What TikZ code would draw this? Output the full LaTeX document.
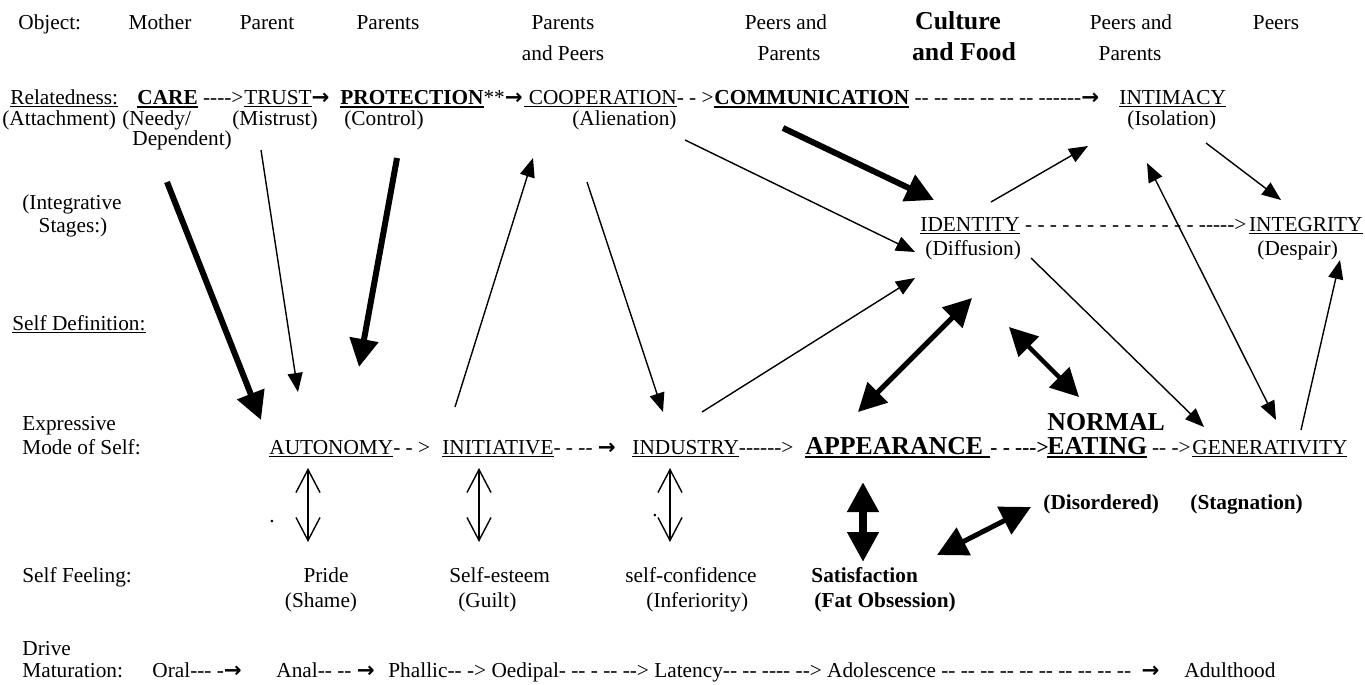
\documentclass[tikz,border=0pt]{standalone}
\usepackage{fontspec}
\setmainfont{Liberation Serif}[Ligatures=TeXOff]
\newfontfamily\arrowfont{DejaVu Sans}
\usepackage{tikz}
\usetikzlibrary{arrows.meta,positioning,calc}

\newcommand{\normtxt}{\fontsize{10.65pt}{12.8pt}\selectfont}
\newcommand{\bigbf}{\fontsize{12.9pt}{15pt}\selectfont\bfseries}
\newcommand{\rarr}{{\arrowfont\bfseries →}}
\newsavebox{\ulbox}
\newcommand{\ulnorm}[1]{\sbox{\ulbox}{#1}\rlap{\rule[-1.6pt]{\wd\ulbox}{0.7pt}}\usebox{\ulbox}}
\newcommand{\ulbold}[1]{\sbox{\ulbox}{#1}\rlap{\rule[-2.2pt]{\wd\ulbox}{1.3pt}}\usebox{\ulbox}}

\begin{document}
\begin{tikzpicture}[x=0.5pt,y=-0.5pt,
    txt/.style={inner sep=0pt,anchor=base west,font=\normtxt},
    mid/.style={inner sep=0pt,anchor=base,font=\normtxt},
    bigtxt/.style={inner sep=0pt,anchor=base,font=\bigbf},
    thinarr/.style={line width=0.7pt,-{Triangle[length=9.5pt,width=7.5pt]}},
    thinboth/.style={line width=0.7pt,>={Triangle[length=9.5pt,width=7.5pt]},<->},
    heavyarr/.style={line width=3pt,-{Triangle[length=14pt,width=14pt]}},
    heavyboth/.style={line width=2.5pt,>={Triangle[length=14pt,width=14pt]},<->},
    openboth/.style={line width=0.7pt,>={Straight Barb[length=11.5pt,width=12pt]},<->}]
  \useasboundingbox (0,0) rectangle (1365,685);

  % object row
  \node[txt] (objlab) at (18,29) {Object:};
  \node[mid] (obj1) at (160,29) {Mother};
  \node[mid] (obj2) at (267,29) {Parent};
  \node[mid] (obj3) at (388,29) {Parents};
  \node[mid] (obj4a) at (563,29) {Parents};
  \node[mid] (obj4b) at (563,60) {and Peers};
  \node[mid] (obj5a) at (786,29) {Peers and};
  \node[mid] (obj5b) at (789,60) {Parents};
  \node[bigtxt] (obj6a) at (958,29) {Culture};
  \node[bigtxt] (obj6b) at (964,61) {and Food};
  \node[mid] (obj7a) at (1131,29) {Peers and};
  \node[mid] (obj7b) at (1130,60) {Parents};
  \node[mid] (obj8) at (1276,29) {Peers};

  % relatedness
  \node[txt] (relat) at (10,104) {\ulnorm{Relatedness:}};
  \node[txt] (care) at (137,104) {\ulbold{\textbf{CARE}}\ ---->};
  \node[txt] (trust) at (care.base east) {\ulnorm{TRUST}\rarr};
  \node[txt] (protect) at ([xshift=5]trust.base east) {\ulbold{\textbf{PROTECTION}}**\rarr};
  \node[txt] (coop) at (protect.base east) {\ulnorm{\ COOPERATION}- - >};
  \node[txt] (comm) at (coop.base east) {\ulbold{\textbf{COMMUNICATION}}\ -- -- --- -- -- -- ------\rarr};
  \node[txt] (intim) at (1119,104) {\ulnorm{INTIMACY}};
  \node[txt] (attach) at (2,125) {(Attachment)};
  \node[txt] (needy) at (122,125) {(Needy/};
  \node[txt] (depend) at (132,145) {Dependent)};
  \node[txt] (mistr) at (232,125) {(Mistrust)};
  \node[txt] (contr) at (344,125) {(Control)};
  \node[txt] (alien) at (572,125) {(Alienation)};
  \node[txt] (isol) at (1127,125) {(Isolation)};

  % integrative stages
  \node[mid] (integ1) at (72,209) {(Integrative};
  \node[mid] (integ2) at (73,232) {Stages:)};
  \node[txt] (ident) at (920,231) {\ulnorm{IDENTITY}\ - - - - - - - - - - - - - - ----->};
  \node[txt,anchor=base east] (integr) at (1363,231) {\ulnorm{INTEGRITY}};
  \node[txt] (diffu) at (925,255) {(Diffusion)};
  \node[txt] (despa) at (1257,255) {(Despair)};
  \node[txt] (selfdef) at (12,330) {\ulnorm{Self Definition:}};

  % expressive mode
  \node[txt] (expr1) at (22,430) {Expressive};
  \node[txt] (expr2) at (22,454) {Mode of Self:};
  \node[txt] (auton) at (269,454) {\ulnorm{AUTONOMY}- - >};
  \node[txt] (initi) at (442,454) {\ulnorm{INITIATIVE}- - -- \rarr};
  \node[txt] (indus) at (632,454) {\ulnorm{INDUSTRY}------>};
  \node[txt,font=\bigbf] (appear) at (805,454) {\ulbold{APPEARANCE }};
  \node[txt,font=\normtxt\bfseries] (appdash) at (appear.base east) {- - --->};
  \node[txt,font=\bigbf] (normal) at (1047,430) {NORMAL};
  \node[txt,font=\bigbf] (eating) at (1047,454) {\ulbold{EATING}};
  \node[txt] (eatdash) at ([xshift=2]eating.base east) {-- ->};
  \node[txt] (gener) at (1192,454) {\ulnorm{GENERATIVITY}};
  \node[txt,font=\normtxt\bfseries] (disord) at (1043,509) {(Disordered)};
  \node[txt,font=\normtxt\bfseries] (stagn) at (1190,509) {(Stagnation)};
  \node[mid] (dot1) at (272,522) {.};
  \node[mid] (dot2) at (655,516) {.};

  % self feeling
  \node[txt] (feel) at (22,582) {Self Feeling:};
  \node[mid] (pride) at (326,582) {Pride};
  \node[mid] (shame) at (321,607) {(Shame)};
  \node[txt] (esteem) at (449,582) {Self-esteem};
  \node[txt] (guilt) at (458,607) {(Guilt)};
  \node[txt] (confid) at (625,582) {self-confidence};
  \node[txt] (infer) at (646,607) {(Inferiority)};
  \node[txt,font=\normtxt\bfseries] (satis) at (811,582) {Satisfaction};
  \node[txt,font=\normtxt\bfseries] (fatob) at (814,607) {(Fat Obsession)};

  % drive maturation
  \node[txt] (drive1) at (22,655) {Drive};
  \node[txt] (drive2) at (22,677) {Maturation:};
  \node[txt] (oral) at (152,677) {Oral--- -\rarr};
  \node[txt] (anal) at (276,677) {Anal-- -- \rarr};
  \node[txt] (phall) at (388,677) {Phallic-- -> Oedipal- -- - -- --> Latency-- -- ---- --> Adolescence -- -- -- -- -- -- -- -- -- --\ \ \rarr};
  \node[txt] (adult) at (1184,677) {Adulthood};

  % arrow ends
  \coordinate (careS) at (167,182);
  \coordinate (autoN) at (261,420);
  \coordinate (trustS) at (261,150);
  \coordinate (autoNE) at (298,392);
  \coordinate (protS) at (397,158);
  \coordinate (initNW) at (359,367);
  \coordinate (initN) at (455,407);
  \coordinate (coopS) at (533,158);
  \coordinate (coopSE) at (587,182);
  \coordinate (indN) at (663,412);
  \coordinate (coopE) at (685,140);
  \coordinate (idW) at (915,252);
  \coordinate (commS) at (783,128);
  \coordinate (idNW) at (934,200);
  \coordinate (indNE) at (702,412);
  \coordinate (idSW) at (915,278);
  \coordinate (idNE) at (991,202);
  \coordinate (intimSW) at (1088,146);
  \coordinate (intimSE) at (1206,143);
  \coordinate (integNW) at (1281,200);
  \coordinate (intimS) at (1147,163);
  \coordinate (genN) at (1276,420);
  \coordinate (diffSE) at (1031,258);
  \coordinate (genNW) at (1204,427);
  \coordinate (genNE) at (1301,430);
  \coordinate (despS) at (1340,260);
  \coordinate (idS) at (972,298);
  \coordinate (appN) at (858,412);
  \coordinate (idSE) at (1009,327);
  \coordinate (normN) at (1079,397);
  \coordinate (appS) at (863,482);
  \coordinate (satN) at (863,562);
  \coordinate (satNE) at (937,555);
  \coordinate (disW) at (1031,507);

  % arrows
  \draw[heavyarr] (careS) -- (autoN);
  \draw[thinarr] (trustS) -- (autoNE);
  \draw[heavyarr] (protS) -- (initNW);
  \draw[thinarr] (initN) -- (coopS);
  \draw[thinarr] (coopSE) -- (indN);
  \draw[thinarr] (coopE) -- (idW);
  \draw[heavyarr] (commS) -- (idNW);
  \draw[thinarr] (indNE) -- (idSW);
  \draw[thinarr] (idNE) -- (intimSW);
  \draw[thinarr] (intimSE) -- (integNW);
  \draw[thinboth] (intimS) -- (genN);
  \draw[thinarr] (diffSE) -- (genNW);
  \draw[thinarr] (genNE) -- (despS);
  \draw[heavyboth] (appN) -- (idS);
  \draw[heavyboth,line width=2.2pt] (normN) -- (idSE);
  \draw[heavyboth,line width=4pt,>={Triangle[length=15pt,width=15pt]}] (appS) -- (satN);
  \draw[heavyboth,>={Triangle[length=15pt,width=15pt]}] (satNE) -- (disW);
  \foreach \xx/\nm in {308/auto,479/init,670/indu}{
    \draw[openboth] (\xx,468) coordinate (\nm A) -- (\xx,542) coordinate (\nm B);
  }
\end{tikzpicture}
\end{document}
